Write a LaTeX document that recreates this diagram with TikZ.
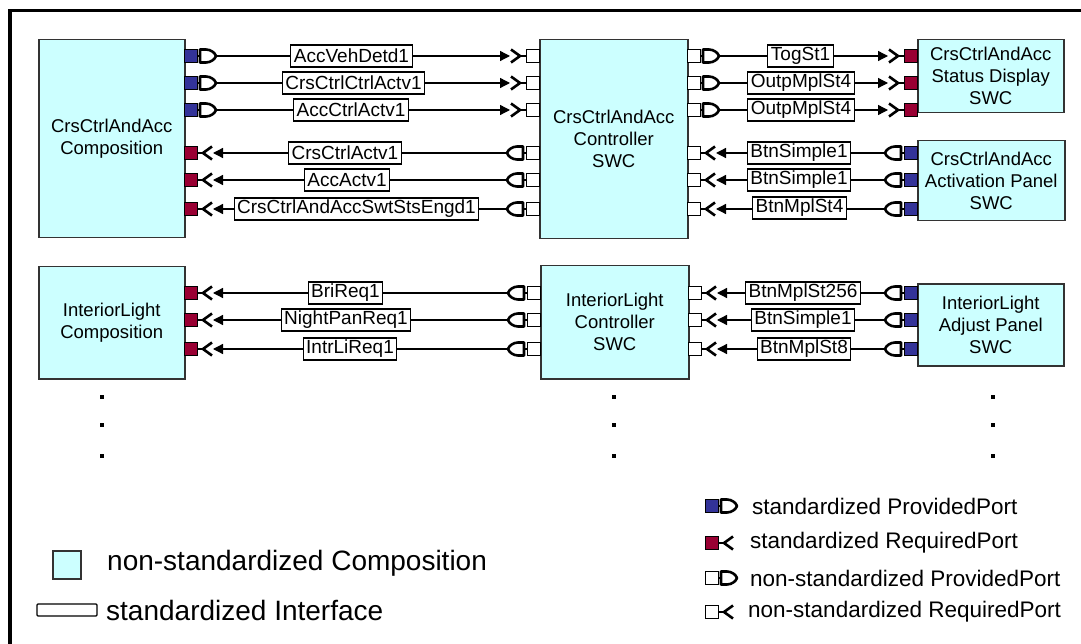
\documentclass[tikz,border=0pt]{standalone}
\usepackage{fontspec}
\setmainfont{Liberation Sans}
\usetikzlibrary{arrows.meta}

\definecolor{swcfill}{HTML}{CCFFFF}
\definecolor{stdprov}{HTML}{333399}
\definecolor{stdreq}{HTML}{990033}
\definecolor{boxline}{HTML}{333333}

\tikzset{
    swc/.style={draw=boxline, line width=1.5pt, fill=swcfill, align=center,
        font=\fontsize{18.5}{22}\selectfont, inner sep=0pt, anchor=north west},
    iface/.style={draw=black, line width=1.1pt, fill=white,
        font=\fontsize{19}{22}\selectfont, inner xsep=3pt, inner ysep=0pt,
        minimum height=22pt},
    port line/.style={line width=2.6pt, line join=round},
    conn/.style={line width=1.3pt, -{Triangle[length=10pt,width=10pt]}},
    legend/.style={anchor=west, inner sep=0pt},
}

% provided port: edge x, y, direction (1 or -1), square colour, name
\newcommand{\provport}[5]{%
    \begin{scope}[shift={(#1,#2)}, xscale=#3]
        \filldraw[fill=#4, draw=black, line width=1pt] (0,-6.5) rectangle (13,6.5);
        \draw[port line] (13,0) -- (16,0);
        \filldraw[port line, fill=white]
            (16,-6.5) -- (22,-6.5) .. controls (27,-6.5) and (31,-3) .. (32,0)
            .. controls (31,3) and (27,6.5) .. (22,6.5) -- (16,6.5) -- cycle;
        \coordinate (#5) at (33,0);
    \end{scope}
}
% required port: edge x, y, direction (1 or -1), square colour, name
\newcommand{\reqport}[5]{%
    \begin{scope}[shift={(#1,#2)}, xscale=#3]
        \filldraw[fill=#4, draw=black, line width=1pt] (0,-6.5) rectangle (13,6.5);
        \draw[port line] (13,0) -- (19,0);
        \draw[port line] (28,-6.5) -- (19,0) -- (28,6.5);
        \coordinate (#5) at (29,0);
    \end{scope}
}

\begin{document}
\begin{tikzpicture}[x=1pt, y=-1pt]
    \useasboundingbox (0,0) rectangle (1081,644);
    \draw[line width=3.5pt] (10,660) -- (10,10.5) -- (1100,10.5);

    % components
    \node[swc, minimum width=146pt, minimum height=198pt] (crsComp) at (38,39)
        {CrsCtrlAndAcc\\Composition};
    \node[swc, minimum width=148pt, minimum height=199pt] (crsCtrl) at (539,39)
        {CrsCtrlAndAcc\\Controller\\SWC};
    \node[swc, minimum width=146pt, minimum height=73pt] (crsDisp) at (917,39)
        {CrsCtrlAndAcc\\Status Display\\SWC};
    \node[swc, minimum width=147pt, minimum height=80pt] (crsPanel) at (917,140)
        {CrsCtrlAndAcc\\Activation Panel\\SWC};
    \node[swc, minimum width=146pt, minimum height=112pt] (ilComp) at (38,266)
        {InteriorLight\\Composition};
    \node[swc, minimum width=148pt, minimum height=113pt] (ilCtrl) at (540,265)
        {InteriorLight\\Controller\\SWC};
    \node[swc, minimum width=146pt, minimum height=82pt] (ilPanel) at (917,283)
        {InteriorLight\\Adjust Panel\\SWC};

    % CrsCtrlAndAcc ports and connectors
    \foreach \y/\n in {56/1,83/2,110/3} {
        \provport{184}{\y}{1}{stdprov}{cp\n}
        \reqport{539}{\y}{-1}{white}{kr\n}
        \draw[conn] (cp\n) -- (kr\n);
        \provport{687}{\y}{1}{white}{kq\n}
        \reqport{917}{\y}{-1}{stdreq}{sr\n}
        \draw[conn] (kq\n) -- (sr\n);
    }
    \foreach \y/\n in {153/1,180/2,209/3} {
        \provport{539}{\y}{-1}{white}{kp\n}
        \reqport{184}{\y}{1}{stdreq}{cr\n}
        \draw[conn] (kp\n) -- (cr\n);
        \provport{917}{\y}{-1}{stdprov}{ap\n}
        \reqport{687}{\y}{1}{white}{ks\n}
        \draw[conn] (ap\n) -- (ks\n);
    }
    % InteriorLight ports and connectors
    \foreach \y/\n in {293/1,320/2,349/3} {
        \provport{540}{\y}{-1}{white}{ip\n}
        \reqport{184}{\y}{1}{stdreq}{ir\n}
        \draw[conn] (ip\n) -- (ir\n);
        \provport{917}{\y}{-1}{stdprov}{jp\n}
        \reqport{688}{\y}{1}{white}{jr\n}
        \draw[conn] (jp\n) -- (jr\n);
    }

    % interfaces
    \node[iface] (ifVeh) at (351.5,56) {AccVehDetd1};
    \node[iface] (ifCrsCtrl) at (353.5,83) {CrsCtrlCtrlActv1};
    \node[iface] (ifAccCtrl) at (351,110) {AccCtrlActv1};
    \node[iface] (ifCrsActv) at (345,153) {CrsCtrlActv1};
    \node[iface] (ifAccActv) at (347,180) {AccActv1};
    \node[iface] (ifSwt) at (356.5,209) {CrsCtrlAndAccSwtStsEngd1};
    \node[iface] (ifTog) at (800.5,56) {TogSt1};
    \node[iface] (ifOutpA) at (801,83) {OutpMplSt4};
    \node[iface] (ifOutpB) at (801,110) {OutpMplSt4};
    \node[iface] (ifBtnA) at (799,153) {BtnSimple1};
    \node[iface] (ifBtnB) at (799,180) {BtnSimple1};
    \node[iface] (ifBtnC) at (799.5,208) {BtnMplSt4};
    \node[iface] (ifBri) at (345.5,293) {BriReq1};
    \node[iface] (ifNight) at (346,320) {NightPanReq1};
    \node[iface] (ifIntr) at (350,349) {IntrLiReq1};
    \node[iface] (ifBtnD) at (803,293) {BtnMplSt256};
    \node[iface] (ifBtnE) at (803,320) {BtnSimple1};
    \node[iface] (ifBtnF) at (804,349) {BtnMplSt8};

    % continuation dots
    \foreach \x in {102,614,993} {
        \foreach \y in {397,425,456} {
            \fill (\x-2,\y-2) rectangle (\x+2,\y+2);
        }
    }

    % legend
    \provport{705}{506}{1}{stdprov}{lgA}
    \reqport{705}{543}{1}{stdreq}{lgB}
    \provport{705}{578}{1}{white}{lgC}
    \reqport{705}{612}{1}{white}{lgD}
    \begin{scope}[font=\fontsize{22.5}{26}\selectfont]
        \node[legend] (txA) at (752,506) {standardized ProvidedPort};
        \node[legend] (txB) at (750,543) {standardized RequiredPort};
        \node[legend] (txC) at (750,578) {non-standardized ProvidedPort};
        \node[legend] (txD) at (748,612) {non-standardized RequiredPort};
    \end{scope}
    \node[swc, minimum width=28pt, minimum height=28pt] (lgComp) at (52,550) {};
    \draw[line width=1.1pt, rounded corners=1pt] (37,604) rectangle (97,616);
    \begin{scope}[font=\fontsize{28}{32}\selectfont]
        \node[legend] (txComp) at (107,563) {non-standardized Composition};
        \node[legend] (txIf) at (106,610) {standardized Interface};
    \end{scope}
\end{tikzpicture}
\end{document}
